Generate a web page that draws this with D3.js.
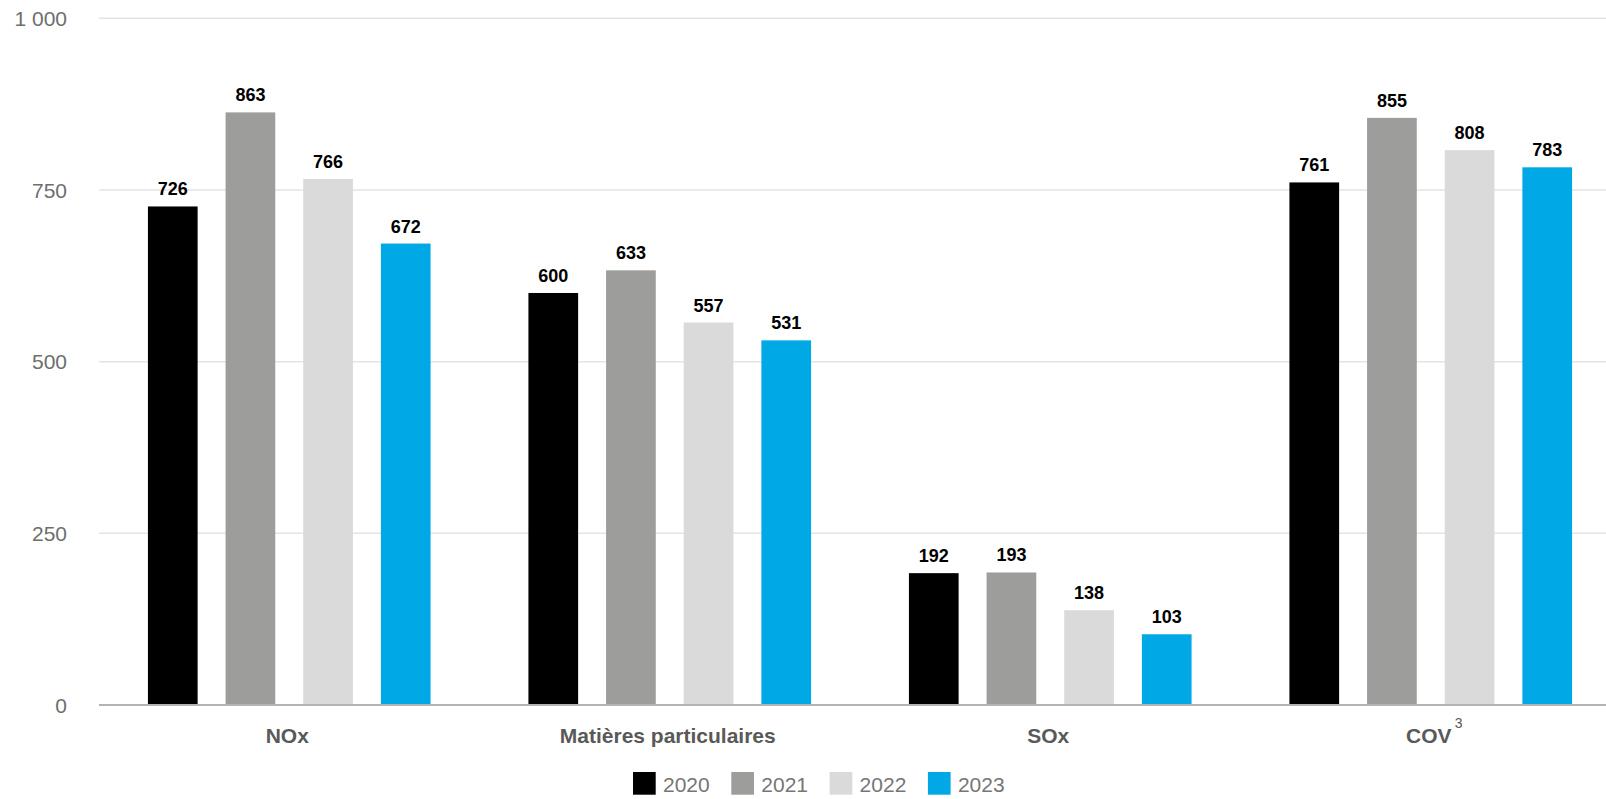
<!DOCTYPE html>
<html>
<head>
<meta charset="utf-8">
<script src="https://cdn.jsdelivr.net/npm/d3@7"></script>
<style>
  body { margin: 0; background: #fff; }
  text { font-family: "Liberation Sans", Arial, sans-serif; }
</style>
</head>
<body>
<svg id="chart" width="1606" height="799"></svg>
<script>
var categories = ["NOx", "Matières particulaires", "SOx", "COV"]
var footnotes = ["", "", "", "3"]
var years = ["2020", "2021", "2022", "2023"]
var values2020 = [726, 600, 192, 761]
var values2021 = [863, 633, 193, 855]
var values2022 = [766, 557, 138, 808]
var values2023 = [672, 531, 103, 783]
var yTicks = [0, 250, 500, 750, 1000]
var colors = ["#000000", "#9d9d9c", "#dadada", "#00a8e6"]

var series = [values2020, values2021, values2022, values2023]

var svg = d3.select("#chart")
var left = 99, bandW = 380.5

var x0 = d3.scaleBand()
    .domain(categories)
    .range([left, left + bandW * categories.length])
    .padding(0)

var x1 = d3.scaleBand()
    .domain(years)
    .range([0, x0.bandwidth()])
    .paddingInner(0.36)
    .paddingOuter(0.63)

var y = d3.scaleLinear()
    .domain([0, 1000])
    .range([705, 18.3])

// gridlines
svg.selectAll(".grid")
    .data(yTicks.filter(function(d){ return d > 0 }))
    .enter()
    .append("line")
    .attr("class", "grid")
    .attr("x1", left)
    .attr("x2", 1606)
    .attr("y1", function(d){ return y(d) })
    .attr("y2", function(d){ return y(d) })
    .attr("stroke", "#e4e4e4")
    .attr("stroke-width", 1.5)

// y tick labels
var fmt = function(d){ return d3.format(",")(d).replace(/,/g, " ") }
svg.selectAll(".ytick")
    .data(yTicks)
    .enter()
    .append("text")
    .attr("class", "ytick")
    .attr("x", 67)
    .attr("y", function(d){ return y(d) })
    .attr("dy", "0.36em")
    .attr("text-anchor", "end")
    .attr("fill", "#6e6e6e")
    .style("font-size", "21px")
    .text(fmt)

// bars
var groups = svg.selectAll(".group")
    .data(categories)
    .enter()
    .append("g")
    .attr("class", "group")
    .attr("transform", function(d){ return "translate(" + x0(d) + ",0)" })

groups.selectAll("rect")
    .data(function(d, i){
        return years.map(function(yr, j){ return {year: yr, value: series[j][i], color: colors[j]} })
    })
    .enter()
    .append("rect")
    .attr("x", function(d){ return x1(d.year) })
    .attr("y", function(d){ return y(d.value) })
    .attr("width", x1.bandwidth())
    .attr("height", function(d){ return y(0) - y(d.value) })
    .attr("fill", function(d){ return d.color })

groups.selectAll(".val")
    .data(function(d, i){
        return years.map(function(yr, j){ return {year: yr, value: series[j][i]} })
    })
    .enter()
    .append("text")
    .attr("class", "val")
    .attr("x", function(d){ return x1(d.year) + x1.bandwidth() / 2 })
    .attr("y", function(d){ return y(d.value) - 11 })
    .attr("text-anchor", "middle")
    .attr("fill", "#000")
    .style("font-size", "18px")
    .style("font-weight", "bold")
    .text(function(d){ return d.value })

// x axis line
svg.append("line")
    .attr("x1", left)
    .attr("x2", 1606)
    .attr("y1", y(0))
    .attr("y2", y(0))
    .attr("stroke", "#b3b3b3")
    .attr("stroke-width", 2)

// category labels
var cats = svg.selectAll(".cat")
    .data(categories)
    .enter()
    .append("g")
    .attr("class", "cat")

cats.append("text")
    .attr("x", function(d){ return x0(d) + x0.bandwidth() / 2 - 2 })
    .attr("y", 743)
    .attr("text-anchor", "middle")
    .attr("fill", "#595959")
    .style("font-size", "21px")
    .style("font-weight", "bold")
    .text(function(d){ return d })

cats.filter(function(d, i){ return footnotes[i] != "" })
    .append("text")
    .attr("x", function(d){ return x0(d) + x0.bandwidth() / 2 + 24 })
    .attr("y", 728)
    .attr("fill", "#595959")
    .style("font-size", "14px")
    .text(function(d){ return footnotes[categories.indexOf(d)] })

// legend (pulled up a little so the labels are not cut at the bottom edge)
var legend = svg.selectAll(".legend")
    .data(years)
    .enter()
    .append("g")
    .attr("class", "legend")
    .attr("transform", function(d, i){ return "translate(" + (633 + i * 98.3) + ",772)" })

legend.append("rect")
    .attr("width", 22.7)
    .attr("height", 22.7)
    .attr("fill", function(d, i){ return colors[i] })

legend.append("text")
    .attr("x", 30)
    .attr("y", 20)
    .attr("fill", "#767676")
    .style("font-size", "21px")
    .text(function(d){ return d })
</script>
</body>
</html>
